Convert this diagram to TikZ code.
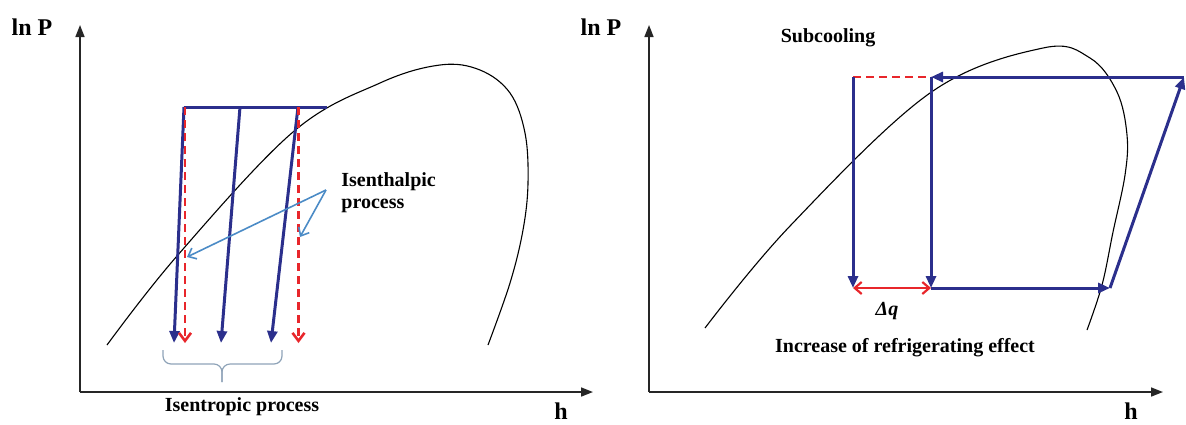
\documentclass[tikz,border=0pt]{standalone}
\usepackage{fontspec}
\setmainfont{Liberation Serif}
\usetikzlibrary{arrows.meta,positioning}
\definecolor{phblue}{HTML}{2B2F8C}
\definecolor{phred}{HTML}{E8262B}
\definecolor{phsky}{HTML}{4B8BC6}
\definecolor{phbrace}{HTML}{8FA3B8}
\tikzset{
  axis/.style={-{Triangle[length=6pt,width=4.5pt]},draw=black!85,line width=0.8pt},
  dome/.style={draw=black,line width=0.55pt},
  flow/.style={-{Triangle[length=6pt,width=5pt]},draw=phblue,line width=1.5pt},
  flowline/.style={draw=phblue,line width=1.5pt},
  sub/.style={-{Straight Barb[length=4pt,width=6pt,line width=1.3pt]},draw=phred,line width=1.1pt,dash pattern=on 4pt off 2.5pt},
  subline/.style={draw=phred,line width=1.1pt,dash pattern=on 4pt off 2.5pt},
  dq/.style={{Straight Barb[length=3.5pt,width=6pt]}-{Straight Barb[length=3.5pt,width=6pt]},draw=phred,line width=1.1pt},
  pointer/.style={-{Straight Barb[length=3.5pt,width=6pt]},draw=phsky,line width=0.8pt},
  brc/.style={draw=phbrace,line width=0.6pt,rounded corners=4pt},
  axlbl/.style={font=\fontsize{12}{14}\selectfont\bfseries},
  lbl/.style={font=\fontsize{10}{11}\selectfont\bfseries,align=left,inner sep=0pt},
}
\begin{document}
\begin{tikzpicture}[x=0.5pt,y=-0.5pt]
  \useasboundingbox (0,0) rectangle (1186,424);
  % left: isentropic vs isenthalpic
  \coordinate (oL) at (80,392); \coordinate (yL) at (80,25); \coordinate (xL) at (593,392);
  \draw[axis] (oL)--(yL); \draw[axis] (oL)--(xL);
  \node[axlbl] (lnpL) at (32,27){ln P}; \node[axlbl] (hL) at (561,411){h};
  \draw[dome] plot[smooth,tension=0.6] coordinates {(107,345) (177,256) (293,132) (380,83) (440,65) (480,70) (510,93) (525,133) (528,183) (523,230) (510,283) (488,345)};
  \coordinate (tL) at (184,107); \coordinate (tR) at (327,107);
  \draw[flowline] (tL)--(tR);
  \foreach \i/\s/\e in {1/184/174,2/240/221,3/298/271}{
    \coordinate (s\i) at (\s,107); \coordinate (e\i) at (\e,343);
    \draw[flow] (s\i)--(e\i);}
  \foreach \i/\x in {1/185,2/298.5}{
    \coordinate (rs\i) at (\x,107); \coordinate (re\i) at (\x,343);
    \draw[sub] (rs\i)--(re\i);}
  \node[lbl,anchor=west] (isen) at (341,193){Isenthalpic\\process};
  \coordinate (fork) at (326,190); \coordinate (pa) at (187,257); \coordinate (pb) at (300,237);
  \draw[pointer] (fork)--(pa); \draw[pointer] (fork)--(pb);
  \coordinate (bl) at (163,350); \coordinate (br) at (282,350); \coordinate (btip) at (222,382);
  \draw[brc] (bl) |- (btip |- 0,364) -- (btip); \draw[brc] (br) |- (btip |- 0,364) -- (btip);
  \node[lbl] (isentr) at (242,407){Isentropic process};
  % right: subcooling
  \coordinate (oR) at (649,392); \coordinate (yR) at (649,25); \coordinate (xR) at (1163,392);
  \draw[axis] (oR)--(yR); \draw[axis] (oR)--(xR);
  \node[axlbl] (lnpR) at (601,27){ln P}; \node[axlbl] (hR) at (1131,411){h};
  \draw[dome] plot[smooth,tension=0.6] coordinates {(705,328) (790,226) (930,93) (1043,48) (1090,58) (1117,92) (1127,135) (1125,175) (1113,232) (1102,285) (1087,330)};
  \coordinate (A) at (853,77); \coordinate (B) at (931,77); \coordinate (C) at (1184,77);
  \coordinate (D) at (853,288); \coordinate (E) at (931,288); \coordinate (F) at (1110,288);
  \draw[subline] (A)--(B);
  \draw[flow] (C)--(B); \draw[flow] (B)--(E); \draw[flow] (A)--(D);
  \draw[flow] (E)--(F); \draw[flow] (F)--(C);
  \draw[dq] (D)--(E);
  \node[lbl] (subc) at (828,38){Subcooling};
  \node[lbl,font=\fontsize{10}{11}\selectfont\bfseries\itshape] (dql) at (887,311){Δq};
  \node[lbl] (incr) at (905,348){Increase of refrigerating effect};
\end{tikzpicture}
\end{document}
